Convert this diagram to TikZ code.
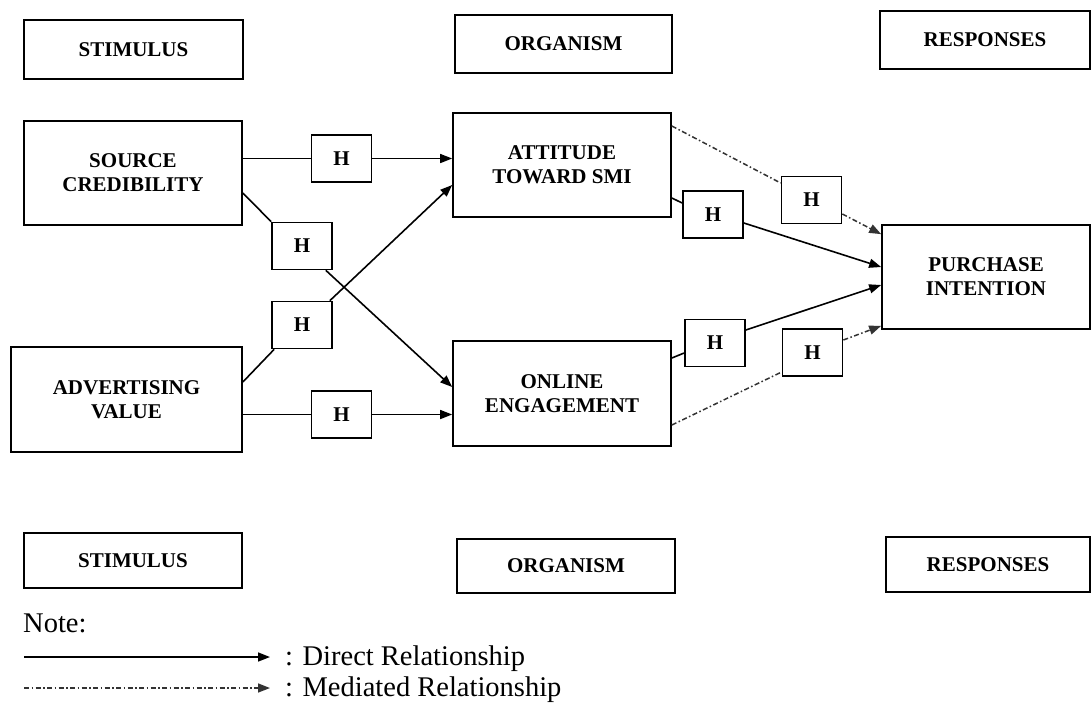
\documentclass[tikz,border=0pt]{standalone}
\usepackage{fontspec}
\setmainfont{Liberation Serif}
\usetikzlibrary{arrows.meta}
\begin{document}
\begin{tikzpicture}[x=1pt,y=-1pt,
  box/.style={draw,line width=1.7pt,inner sep=0pt,align=center,font=\bfseries\fontsize{21}{24}\selectfont},
  hbox/.style={box,minimum width=60pt,minimum height=47pt},
  direct/.style={line width=1.6pt},
  arr/.style={-{Triangle[length=12pt,width=9pt]}},
  medi/.style={line width=1.5pt,dash pattern=on 5pt off 2.5pt on 1.5pt off 2.5pt,black!80},
  legend/.style={inner sep=0pt,font=\fontsize{28.5}{32}\selectfont}]
\useasboundingbox (0,0) rectangle (1092,702);
\fill[white] (0,0) rectangle (1092,702);

% header boxes
\node[box,minimum width=219pt,minimum height=59pt] (stimT) at (133.5,49.5) {STIMULUS};
\node[box,minimum width=217pt,minimum height=58pt] (orgT) at (563.5,44) {ORGANISM};
\node[box,minimum width=210pt,minimum height=58pt] (respT) at (985,40) {RESPONSES};

% main boxes
\node[box,minimum width=218pt,minimum height=104pt] (SC) at (133,173) {SOURCE\\CREDIBILITY};
\node[box,minimum width=231pt,minimum height=105pt] (AV) at (126.5,399.5) {ADVERTISING\\VALUE};
\node[box,minimum width=218pt,minimum height=104pt] (ATT) at (562,165) {ATTITUDE\\TOWARD SMI};
\node[box,minimum width=218pt,minimum height=105pt] (OE) at (562,393.5) {ONLINE\\ENGAGEMENT};
\node[box,minimum width=208pt,minimum height=104pt] (PI) at (986,277) {PURCHASE\\INTENTION};

% footer boxes
\node[box,minimum width=218pt,minimum height=55pt] (stimB) at (133,560.5) {STIMULUS};
\node[box,minimum width=218pt,minimum height=54pt] (orgB) at (566,566) {ORGANISM};
\node[box,minimum width=204pt,minimum height=55pt] (respB) at (988,564.5) {RESPONSES};

% H boxes
\node[hbox] (H1) at (341.5,158.5) {H};
\node[hbox] (H2) at (302,246) {H};
\node[hbox] (H3) at (302,325) {H};
\node[hbox] (H4) at (341.5,414.5) {H};
\node[hbox] (H5) at (713,214.5) {H};
\node[hbox] (H6) at (811.5,200) {H};
\node[hbox] (H7) at (715,343) {H};
\node[hbox] (H8) at (812.5,352.5) {H};

% direct connectors
\draw[direct] (SC.east |- H1.west) -- (H1.west);
\draw[direct,arr] (H1.east) -- (ATT.west |- H1.east);

\draw[direct] ([yshift=-20pt]SC.east) -- (H2.north west);
\draw[direct,arr] ([xshift=-7pt]H2.south east) -- ([yshift=6.5pt]OE.west);

\draw[direct] ([yshift=17.5pt]AV.east) -- ([xshift=3pt]H3.south west);
\draw[direct,arr] ([xshift=-3pt]H3.north east) -- ([yshift=-20pt]ATT.west);

\draw[direct] (AV.east |- H4.west) -- (H4.west);
\draw[direct,arr] (H4.east) -- (OE.west |- H4.east);

\draw[direct] ([yshift=-33pt]ATT.east) -- ([yshift=11.5pt]H5.west);
\draw[direct,arr] ([yshift=-8.5pt]H5.east) -- ([yshift=10pt]PI.west);

\draw[direct] ([yshift=35.5pt]OE.east) -- ([yshift=-10pt]H7.west);
\draw[direct,arr] ([yshift=13pt]H7.east) -- ([yshift=-8pt]PI.west);

% mediated connectors
\draw[medi] ([yshift=39pt]ATT.east) -- ([yshift=17pt]H6.west);
\draw[medi,arr] ([yshift=-14pt]H6.east) -- ([yshift=-10pt]PI.north west);

\draw[medi] ([yshift=-31.5pt]OE.east) -- ([yshift=-19.5pt]H8.west);
\draw[medi,arr] ([yshift=12.5pt]H8.east) -- ([yshift=4pt]PI.south west);

% legend
\node[legend,anchor=base west] (note) at (23,632) {Note:};
\coordinate (d1) at (24,657);
\coordinate (d2) at (270,657);
\draw[direct,arr] (d1) -- (d2);
\node[legend,anchor=base west] (dtxt) at (285,665) {: Direct Relationship};
\coordinate (m1) at (24,688);
\coordinate (m2) at (270,688);
\draw[medi,arr] (m1) -- (m2);
\node[legend,anchor=base west] (mtxt) at (285,696) {: Mediated Relationship};
\end{tikzpicture}
\end{document}
